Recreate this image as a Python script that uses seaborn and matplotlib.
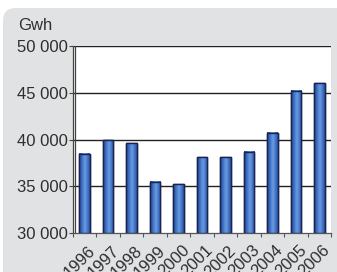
import numpy as np
import pandas as pd
import seaborn as sns
import matplotlib.pyplot as plt
import matplotlib.transforms as mtrans
from matplotlib.patches import FancyBboxPatch
from matplotlib.colors import LinearSegmentedColormap
from matplotlib.ticker import FuncFormatter, FixedLocator

years = ['1996', '1997', '1998', '1999', '2000', '2001', '2002', '2003', '2004', '2005', '2006']
gwh = [38500, 39900, 39600, 35500, 35200, 38100, 38100, 38700, 40700, 45200, 46000]
y_ticks = [30000, 35000, 40000, 45000, 50000]

df = pd.DataFrame({'year': years, 'gwh': gwh})

sns.set_style('white')
plt.rcParams['font.family'] = ['Liberation Sans', 'DejaVu Sans']
text_col = '#2e2e2e'

fig = plt.figure(figsize=(3.37, 2.72), dpi=100)
fig.patch.set_facecolor('white')

# grey panel with rounded top-left corner
panel = FancyBboxPatch((0.03, -0.3), 4.0, 2.64 + 0.3,
                       boxstyle='round,pad=0,rounding_size=0.13',
                       transform=fig.dpi_scale_trans, facecolor='#e1e2e4',
                       edgecolor='none', zorder=-10)
fig.patches.append(panel)

ax = fig.add_axes([73 / 337, 39 / 272, 258 / 337, 187 / 272])
ax.set_facecolor('white')

ymin = y_ticks[0]
sns.barplot(data=df, x='year', y='gwh', ax=ax, color='#3565b3', width=0.45,
            edgecolor='#1b2350', linewidth=1.0, zorder=3)

# horizontal gradient inside each bar
grad = np.linspace(0, 1, 64)
grad = 1 - np.abs(grad - 0.55) * 1.8
grad = np.clip(grad, 0, 1)[None, :]
cmap = LinearSegmentedColormap.from_list('bar', ['#1f3f85', '#3d70c4', '#6a9be0'])
for p in list(ax.patches):
    x0, w, h = p.get_x(), p.get_width(), p.get_height()
    ax.imshow(grad, cmap=cmap, aspect='auto', extent=[x0, x0 + w, ymin, h],
              zorder=3.5, vmin=0, vmax=1, interpolation='bilinear')
    ax.add_patch(plt.Rectangle((x0, ymin), w, h - ymin, fill=False,
                               edgecolor='#1b2350', linewidth=1.0, zorder=4))

ax.set_xlim(-0.33, 10.42)
ax.set_ylim(30000, 50000)
ax.yaxis.set_major_locator(FixedLocator(y_ticks))
ax.yaxis.set_major_formatter(FuncFormatter(lambda v, pos: f'{int(v):,}'.replace(',', ' ')))
for v in y_ticks[1:]:
    ax.axhline(v, color='#222222', linewidth=1.0, zorder=1)

for s in ['top', 'right']:
    ax.spines[s].set_visible(False)
ax.spines['left'].set_color('#444444')
ax.spines['left'].set_linewidth(0.9)
ax.spines['bottom'].set_color('#555555')
ax.spines['bottom'].set_linewidth(0.9)
ax.plot([0.009, 0.009], [0, 1], transform=ax.transAxes, color='#444444',
        linewidth=0.9, clip_on=False, zorder=2)

ax.set_xlabel('')
ax.set_ylabel('')
ax.tick_params(axis='y', which='major', direction='out', length=3, width=0.8,
               color='#444444', labelsize=12, labelcolor=text_col, pad=1, left=True)
ax.tick_params(axis='x', which='major', length=0, labelsize=12,
               labelcolor=text_col, pad=7)
ax.set_xticks(np.arange(-0.5, 10.6, 1.0), minor=True)
ax.tick_params(axis='x', which='minor', direction='out', length=3, width=0.8,
               color='#555555', bottom=True)
shift = mtrans.ScaledTranslation(3 / 100, 0, fig.dpi_scale_trans)
for lab in ax.get_xticklabels():
    lab.set_rotation(45)
    lab.set_ha('right')
    lab.set_va('top')
    lab.set_rotation_mode('anchor')
    lab.set_transform(lab.get_transform() + shift)

fig.text(18 / 337, 1 - 26 / 272, 'Gwh', fontsize=12, color=text_col,
         ha='left', va='center')

fig.savefig('out.png', dpi=100, facecolor=fig.get_facecolor())
